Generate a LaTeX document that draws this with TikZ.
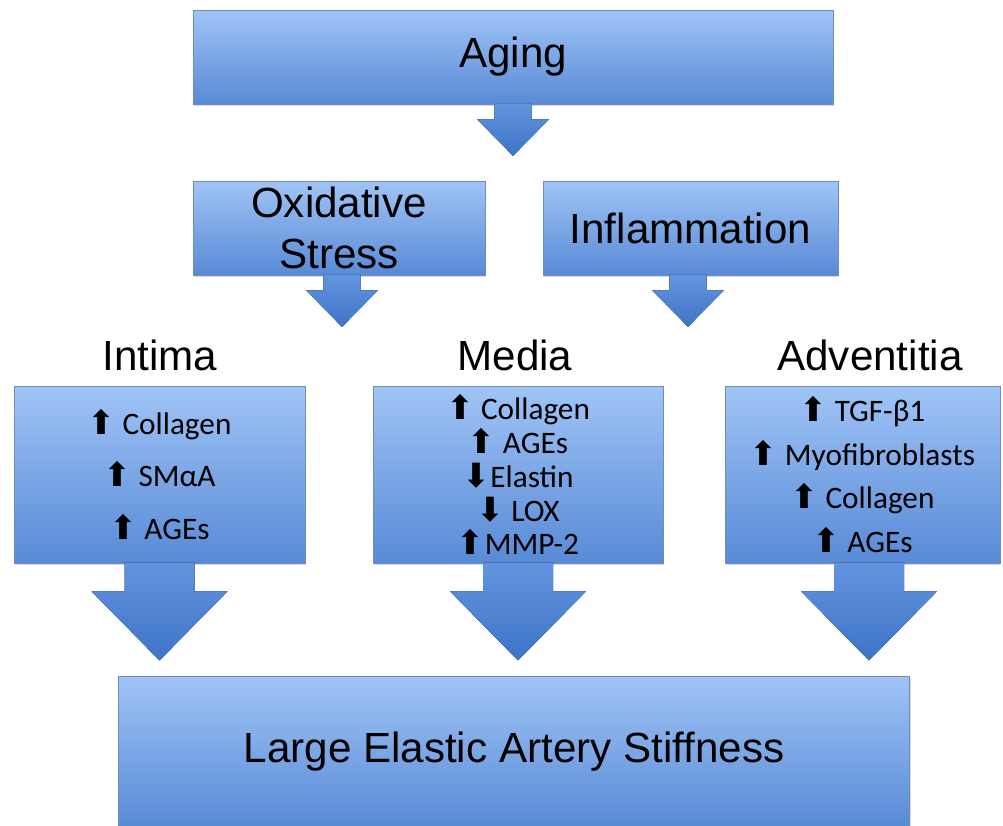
\documentclass[tikz,border=0pt]{standalone}
\usepackage{fontspec}
\setmainfont{Liberation Sans}
\newfontfamily\itemfont{Carlito}
\newfontfamily\symfont{DejaVu Sans}
\usetikzlibrary{calc,shadows}
\definecolor{boxtop}{RGB}{160,196,246}
\definecolor{boxbot}{RGB}{88,138,214}
\definecolor{arrtop}{RGB}{98,148,224}
\definecolor{arrbot}{RGB}{62,116,198}
\definecolor{boxline}{RGB}{112,140,186}
\newcommand{\incr}{{\symfont\fontsize{19}{19}\selectfont ⬆}}
\newcommand{\decr}{{\symfont\fontsize{19}{19}\selectfont ⬇}}
\tikzset{
 stage/.style={draw=boxline,line width=0.5pt,top color=boxtop,bottom color=boxbot,
   drop shadow={shadow xshift=0.4pt,shadow yshift=-1pt,opacity=0.3},
   font=\fontsize{24}{29}\selectfont,align=center,inner sep=2pt},
 items/.style={font=\itemfont\fontsize{17.8}{19.3}\selectfont},
 layer/.style={font=\fontsize{24}{29}\selectfont,anchor=base},
 bigarrow/.pic={\fill[top color=arrtop,bottom color=arrbot] (-35,-1) -- (35,-1) -- (35,28) -- (68,28) -- (0,97) -- (-68,28) -- (-35,28) -- cycle;}
}
\begin{document}
\begin{tikzpicture}[x=0.02cm,y=-0.02cm]
 \clip (0,0) rectangle (1003,825);
 \node[stage,minimum width=12.8cm,minimum height=1.88cm] (aging) at (513,57) {Aging};
 \node[stage,minimum width=5.84cm,minimum height=1.88cm] (oxid) at (339,228) {Oxidative\\Stress};
 \node[stage,minimum width=5.9cm,minimum height=1.88cm] (infl) at (690.5,228) {Inflammation};
 \node[layer] (intimalab) at (160,370) {Intima};
 \node[layer] (medialab) at (515,370) {Media};
 \node[layer] (adventlab) at (870,370) {Adventitia};
 \node[stage,items,minimum width=5.82cm,minimum height=3.54cm] (intima) at (159.5,474.5)
  {\incr\ Collagen\\[10.5pt] \incr\ SMαA\\[10.5pt] \incr\ AGEs};
 \node[stage,items,minimum width=5.8cm,minimum height=3.54cm] (media) at (518,474.5)
  {\incr\ Collagen\\ \incr\ AGEs\\ \decr Elastin\\ \decr\ LOX\\ \incr MMP-2};
 \node[stage,items,minimum width=5.5cm,minimum height=3.54cm] (advent) at (862.5,474.5)
  {\incr\ TGF-β1\\[5.7pt] \incr\ Myofibroblasts\\[5.7pt] \incr\ Collagen\\[5.7pt] \incr\ AGEs};
 \node[stage,minimum width=15.84cm,minimum height=3.04cm] (result) at (514,752) {Large Elastic Artery Stiffness};
 \pic[scale=0.53] at (aging.south) {bigarrow};
 \pic[scale=0.53] at ($(oxid.south)+(3,0)$) {bigarrow};
 \pic[scale=0.53] at ($(infl.south)+(-2.5,0)$) {bigarrow};
 \pic at (intima.south) {bigarrow};
 \pic at (media.south) {bigarrow};
 \pic at ($(advent.south)+(6.5,0)$) {bigarrow};
\end{tikzpicture}
\end{document}
